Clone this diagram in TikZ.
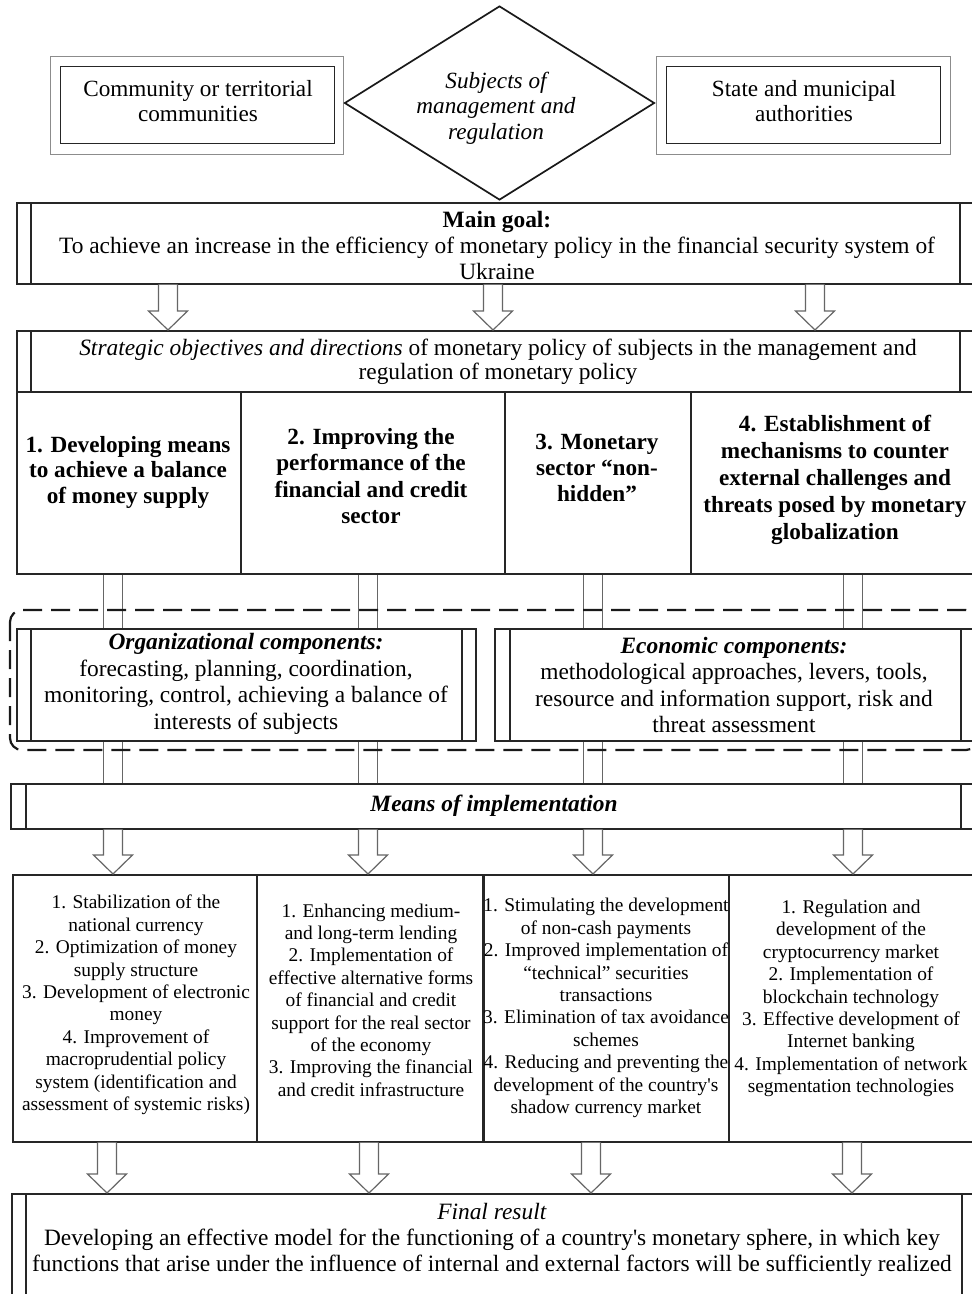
\documentclass[tikz,border=0pt]{standalone}
\usepackage{fontspec}
\setmainfont{Liberation Serif}
\usetikzlibrary{calc,shapes.geometric}
\pgfdeclarelayer{bg}
\pgfsetlayers{bg,main}
\begin{document}
\begin{tikzpicture}[x=1pt,y=-1pt,
  frame/.style={draw=black!85, line width=1.6pt, fill=white, inner sep=0pt, anchor=north west},
  thinframe/.style={draw=black!45, line width=1.1pt, fill=white, inner sep=0pt, anchor=north west},
  striped/.style 2 args={path picture={
     \draw[line width=1.6pt,black!85] ([xshift=#1]path picture bounding box.north west) -- ([xshift=#1]path picture bounding box.south west);
     \draw[line width=1.6pt,black!85] ([xshift=-#2]path picture bounding box.north east) -- ([xshift=-#2]path picture bounding box.south east);}},
  txt/.style={align=center, inner sep=0pt, font=\fontsize{23.4}{26}\selectfont},
  small/.style={align=center, inner sep=0pt, font=\fontsize{19.4}{22.4}\selectfont},
  arr/.style={draw=black!60, line width=1.2pt, fill=white, line join=miter,
     to path={let \p1=(\tikztostart), \p2=(\tikztotarget) in
       (\x1-9.5pt,\y1) -- (\x1-9.5pt,\y2+19pt) -- (\x1-19.5pt,\y2+19pt) -- (\x1,\y2)
       -- (\x1+19.5pt,\y2+19pt) -- (\x1+9.5pt,\y2+19pt) -- (\x1+9.5pt,\y1)}},
  pair/.style={draw=black!60, line width=1.2pt, double=white, double distance=18pt}
]
\useasboundingbox (0,0) rectangle (972,1294);
\begin{pgfonlayer}{bg}
\fill[white] (0,0) rectangle (972,1294);
\end{pgfonlayer}
\clip (0,0) rectangle (972,1294);

% x reference coordinates
\coordinate (a1) at (168,0); \coordinate (a2) at (493,0); \coordinate (a3) at (815,0);
\coordinate (p1) at (113,0); \coordinate (p2) at (368,0); \coordinate (p3) at (593,0); \coordinate (p4) at (853,0);
\coordinate (q1) at (107,0); \coordinate (q2) at (369,0); \coordinate (q3) at (591,0); \coordinate (q4) at (852,0);

% ---------- top ----------
\node[thinframe, minimum width=293, minimum height=98] (lout) at (50,56) {};
\node[frame, line width=1.4pt, minimum width=274, minimum height=77] (lin) at (60,66) {};
\node[txt, font=\fontsize{23.2}{25}\selectfont] (lt) at (198,101) {Community or territorial\\communities};

\node[thinframe, minimum width=294, minimum height=98] (rout) at (656,56) {};
\node[frame, line width=1.4pt, minimum width=274, minimum height=77] (rin) at (666,66) {};
\node[txt, font=\fontsize{23.2}{25}\selectfont] (rt) at (804,101) {State and municipal\\authorities};

\node[diamond, draw=black!90, line width=1.7pt, fill=white, inner sep=0pt, aspect=1.6,
      minimum width=310, minimum height=194] (subj) at (499.5,103) {};
\node[txt, font=\fontsize{23.2}{25.5}\itshape] (subjT) at (496,108) {Subjects of\\management and\\regulation};

% ---------- main goal ----------
\node[frame, striped={14pt}{26pt}, minimum width=969, minimum height=81] (goal) at (16,202) {};
\node[txt] (goalT) at (497,245) {\textbf{Main goal:}\\To achieve an increase in the efficiency of monetary policy in the financial security system of\\Ukraine};

% ---------- strategic ----------
\node[frame, striped={14pt}{26pt}, minimum width=969, minimum height=61] (strat) at (16,330) {};
\node[txt, font=\fontsize{23.4}{24.5}\selectfont] (stratT) at (498,362) {\textit{Strategic objectives and directions} of monetary policy of subjects in the management and\\regulation of monetary policy};

\node[frame, minimum width=224, minimum height=182] (c1) at (16,391) {};
\node[frame, minimum width=264, minimum height=182] (c2) at (240,391) {};
\node[frame, minimum width=186, minimum height=182] (c3) at (504,391) {};
\node[frame, minimum width=295, minimum height=182] (c4) at (690,391) {};

\node[txt, font=\fontsize{23.2}{25.5}\bfseries] (c1T) at (128,472) {1. Developing means\\to achieve a balance\\of money supply};
\node[txt, font=\fontsize{23.2}{26.5}\bfseries] (c2T) at (371,476) {2. Improving the\\performance of the\\financial and credit\\sector};
\node[txt, font=\fontsize{23.2}{26}\bfseries] (c3T) at (597,468) {3. Monetary\\sector “non-\\hidden”};
\node[txt, font=\fontsize{23.2}{27}\bfseries] (c4T) at (835,480) {4. Establishment of\\mechanisms to counter\\external challenges and\\threats posed by monetary\\globalization};

% ---------- components ----------
\node[frame, striped={14pt}{14pt}, minimum width=459, minimum height=112] (org) at (16,628) {};
\node[txt, font=\fontsize{23.4}{26.7}\selectfont] (orgT) at (246,684) {\textbf{\textit{Organizational components:}}\\forecasting, planning, coordination,\\monitoring, control, achieving a balance of\\interests of subjects};

\node[frame, striped={15pt}{25pt}, minimum width=491, minimum height=112] (econ) at (494,628) {};
\node[txt, font=\fontsize{23.4}{26.5}\selectfont] (econT) at (734,685) {\textbf{\textit{Economic components:}}\\methodological approaches, levers, tools,\\resource and information support, risk and\\threat assessment};

% ---------- means ----------
\node[frame, striped={15pt}{25pt}, minimum width=975, minimum height=45] (means) at (10,783) {};
\node[txt] (meansT) at (494,806) {\textbf{\textit{Means of implementation}}};

% ---------- connectors and dashed group behind ----------
\begin{pgfonlayer}{bg}
\draw[pair] (c1.south -| p1) -- (means.north -| p1);
\draw[pair] (c2.south -| p2) -- (means.north -| p2);
\draw[pair] (c3.south -| p3) -- (means.north -| p3);
\draw[pair] (c4.south -| p4) -- (means.north -| p4);
\draw[black!90, line width=2.2pt, dash pattern=on 19pt off 9pt, rounded corners=12pt] (10,610) rectangle (978,750);
\end{pgfonlayer}

% ---------- bottom columns ----------
\node[frame, minimum width=244, minimum height=267] (b1) at (12,874) {};
\node[frame, minimum width=227, minimum height=267] (b2) at (256,874) {};
\node[frame, minimum width=245, minimum height=267] (b3) at (483,874) {};
\node[frame, minimum width=257, minimum height=267] (b4) at (728,874) {};

\node[small] (b1T) at (136,1005) {1. Stabilization of the\\national currency\\2. Optimization of money\\supply structure\\3. Development of electronic\\money\\4. Improvement of\\macroprudential policy\\system (identification and\\assessment of systemic risks)};
\node[small] (b2T) at (371,1000) {1. Enhancing medium-\\and long-term lending\\2. Implementation of\\effective alternative forms\\of financial and credit\\support for the real sector\\of the economy\\3. Improving the financial\\and credit infrastructure};
\begin{scope}
\clip (b3.north west) rectangle (b3.south east);
\node[small] (b3T) at (606,1008) {1. Stimulating the development\\of non-cash payments\\2. Improved implementation of\\“technical” securities\\transactions\\3. Elimination of tax avoidance\\schemes\\4. Reducing and preventing the\\development of the country\textquotesingle s\\shadow currency market};
\end{scope}
\draw[line width=1.6pt, black!85] (b3.north east) -- (b3.south east);
\draw[line width=1.6pt, black!85] (b3.north west) -- (b3.south west);
\node[small] (b4T) at (851,998.5) {1. Regulation and\\development of the\\cryptocurrency market\\2. Implementation of\\blockchain technology\\3. Effective development of\\Internet banking\\4. Implementation of network\\segmentation technologies};

% ---------- final ----------
\node[frame, striped={14pt}{24pt}, minimum width=974, minimum height=130] (final) at (11,1193) {};
\node[txt, font=\fontsize{23.4}{26}\selectfont] (finalT) at (492,1239.5) {\textit{Final result}\\Developing an effective model for the functioning of a country\textquotesingle s monetary sphere, in which key\\functions that arise under the influence of internal and external factors will be sufficiently realized};

% ---------- block arrows ----------
\draw[arr] (goal.south -| a1) to (strat.north -| a1);
\draw[arr] (goal.south -| a2) to (strat.north -| a2);
\draw[arr] (goal.south -| a3) to (strat.north -| a3);

\draw[arr] (means.south -| p1) to (b1.north -| p1);
\draw[arr] (means.south -| p2) to (b2.north -| p2);
\draw[arr] (means.south -| p3) to (b3.north -| p3);
\draw[arr] (means.south -| p4) to (b4.north -| p4);

\draw[arr] (b1.south -| q1) to (final.north -| q1);
\draw[arr] (b2.south -| q2) to (final.north -| q2);
\draw[arr] (b3.south -| q3) to (final.north -| q3);
\draw[arr] (b4.south -| q4) to (final.north -| q4);
\end{tikzpicture}
\end{document}
